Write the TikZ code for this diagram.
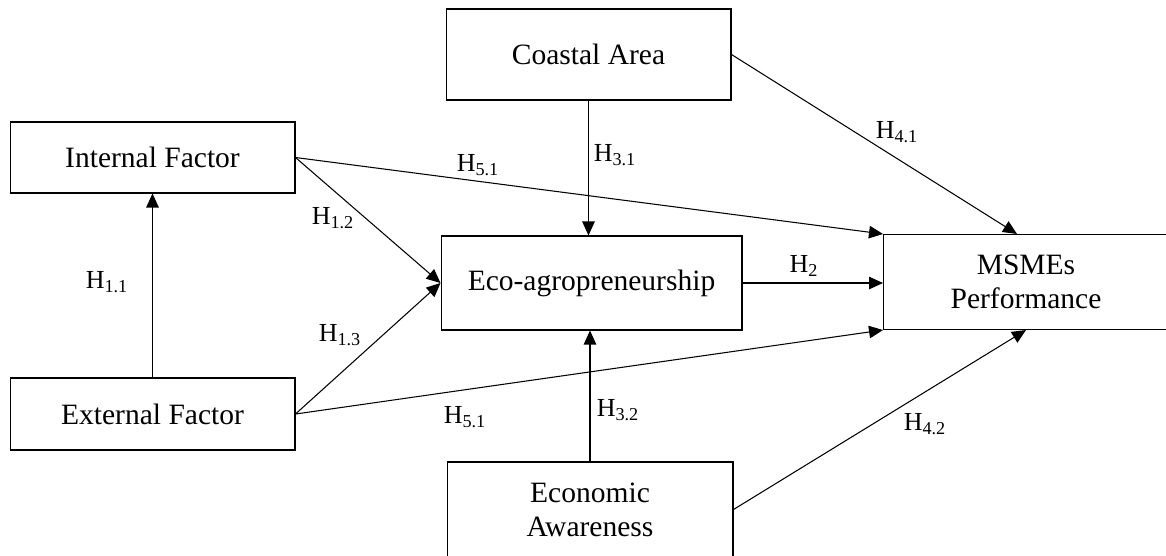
\documentclass[tikz,border=0pt]{standalone}
\usepackage{fontspec}
\setmainfont{Liberation Serif}
\usetikzlibrary{arrows.meta}

\tikzset{
  konstrukt/.style={draw, line width=0.6pt, minimum width=5.7cm, align=center,
    font=\fontsize{16.8}{19.3}\selectfont},
  pfad/.style={-{Triangle[length=0.28cm, width=0.25cm]}, line width=0.6pt},
  hyp/.style={font=\fontsize{14.8}{17}\selectfont}
}

\begin{document}
\begin{tikzpicture}[x=0.02cm, y=-0.02cm]
    \useasboundingbox (0,0) rectangle (1166,555);

    % Konstrukte
    \node[konstrukt, minimum height=1.82cm] (coastal) at (588.5,54.5) {Coastal Area};
    \node[konstrukt, minimum height=1.42cm] (internal) at (152.5,157.5) {Internal Factor};
    \node[konstrukt, minimum height=1.44cm] (external) at (152.5,414) {External Factor};
    \node[konstrukt, minimum width=6.02cm, minimum height=1.88cm] (eco) at (591.5,283) {Eco-agropreneurship};
    \node[konstrukt, minimum width=5.7cm, minimum height=1.9cm] (msmes) at (1026,282) {MSMEs\\Performance};
    \node[konstrukt, minimum width=5.72cm, minimum height=1.9cm] (economic) at (590,509.5) {Economic\\Awareness};

    % Pfade
    \draw[pfad] (external.north) -- (internal.south);
    \draw[pfad] (internal.east) -- (eco.west);
    \draw[pfad] (external.east) -- (eco.west);
    \draw[pfad] (internal.east) -- (msmes.north west);
    \draw[pfad] (external.east) -- (msmes.south west);
    \draw[pfad] (coastal.south) -- (coastal.south |- eco.north);
    \draw[pfad] (economic.north) -- (economic.north |- eco.south);
    \draw[pfad] (coastal.east) -- ([xshift=-0.18cm]msmes.north);
    \draw[pfad] (economic.east) -- (msmes.south);
    \draw[pfad] (eco.east) -- (eco.east -| msmes.west);

    % Hypothesen
    \node[hyp] (h11) at (107,282) {H\textsubscript{1.1}};
    \node[hyp] (h12) at (333,218) {H\textsubscript{1.2}};
    \node[hyp] (h13) at (340,335) {H\textsubscript{1.3}};
    \node[hyp] (h2) at (804,266) {H\textsubscript{2}};
    \node[hyp] (h31) at (615,155) {H\textsubscript{3.1}};
    \node[hyp] (h32) at (618,410) {H\textsubscript{3.2}};
    \node[hyp] (h41) at (897,132) {H\textsubscript{4.1}};
    \node[hyp] (h42) at (925,424) {H\textsubscript{4.2}};
    \node[hyp] (h51a) at (478,165) {H\textsubscript{5.1}};
    \node[hyp] (h51b) at (465,417) {H\textsubscript{5.1}};
\end{tikzpicture}
\end{document}
